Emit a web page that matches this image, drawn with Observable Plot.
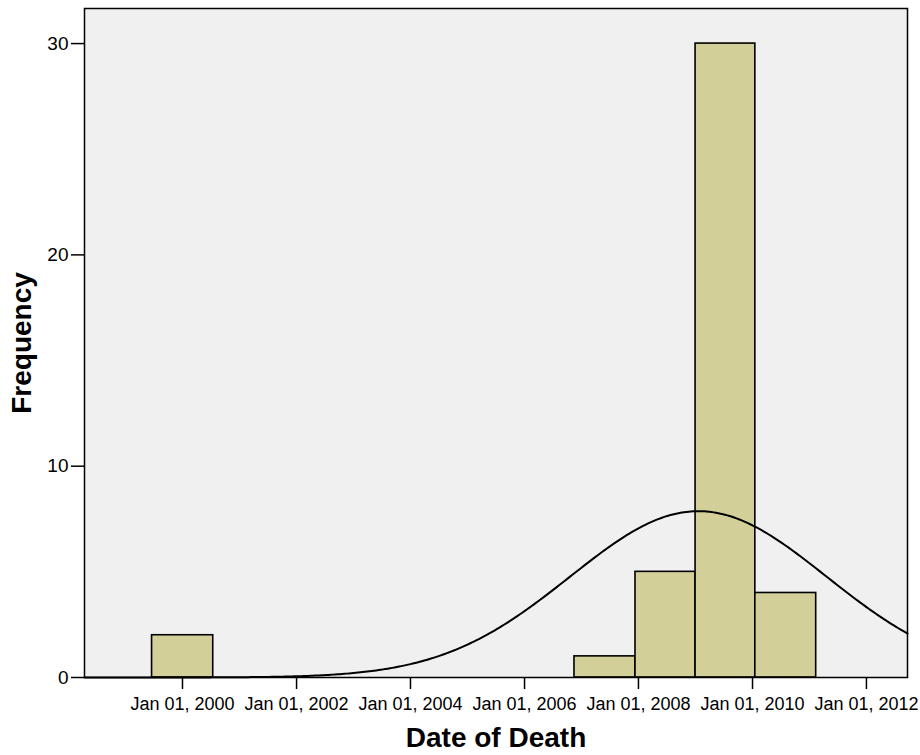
<!DOCTYPE html>
<html>
<head>
<meta charset="utf-8">
<script src="https://cdn.jsdelivr.net/npm/d3@7"></script>
<script src="https://cdn.jsdelivr.net/npm/@observablehq/plot@0.6"></script>
<style>
  html, body { margin: 0; padding: 0; background: #fff; }
  #chart svg { display: block; }
</style>
</head>
<body>
<div id="chart"></div>
<script>
// Histogram bins (Date of Death)
const binStart = ["1999-06-20", "2006-11-17", "2007-12-13", "2009-01-01", "2010-01-19"];
const binEnd   = ["2000-07-16", "2007-12-13", "2009-01-01", "2010-01-19", "2011-02-13"];
const counts   = [2, 1, 5, 30, 4];

// Fitted normal curve parameters
const normalMean = 2009.05;   // decimal year
const normalSD = 2.25;        // years
const binWidthYears = 1.057;
const totalN = 42;

const xTickYears = [2000, 2002, 2004, 2006, 2008, 2010, 2012];
const yTicks = [0, 10, 20, 30];

const yearToDate = y => new Date(Date.UTC(1970, 0, 1) + (y - 1970) * 365.2425 * 864e5);
const xDomain = [yearToDate(1998.28), yearToDate(2012.72)];

const bars = binStart.map((s, i) => ({x1: new Date(s), x2: new Date(binEnd[i]), count: counts[i]}));

const curve = d3.range(1998.28, 2012.73, 0.04).map(y => ({
  date: yearToDate(y),
  value: totalN * binWidthYears * Math.exp(-0.5 * ((y - normalMean) / normalSD) ** 2) / (normalSD * Math.sqrt(2 * Math.PI))
}));

const xTicks = xTickYears.map(y => new Date(Date.UTC(y, 0, 1)));
const fmt = d3.utcFormat("%b %d, %Y");

const chart = Plot.plot({
  width: 920,
  height: 755,
  marginTop: 8,
  marginBottom: 78,
  marginLeft: 84,
  marginRight: 13,
  style: {fontFamily: "'Liberation Sans', Arial, sans-serif", background: "#fff", color: "#000"},
  x: {type: "utc", domain: xDomain},
  y: {domain: [0, 31.66]},
  marks: [
    Plot.frame({fill: "#f0f0f0"}),
    Plot.rectY(bars, {x1: "x1", x2: "x2", y1: 0, y2: "count", fill: "#d3cf98", stroke: "#000", strokeWidth: 1.6}),
    Plot.line(curve, {x: "date", y: "value", stroke: "#000", strokeWidth: 2, curve: "linear"}),
    Plot.frame({stroke: "#000", strokeWidth: 1.5}),
    Plot.axisY({ticks: yTicks, tickSize: 13, tickPadding: 3, fontSize: 19, label: null, strokeWidth: 1.5}),
    Plot.axisX({ticks: xTicks, tickFormat: fmt, tickSize: 12, tickPadding: 8, fontSize: 18, label: null, strokeWidth: 1.5}),
    Plot.text(["Frequency"], {frameAnchor: "left", textAnchor: "middle", dx: -62, rotate: -90, fontSize: 28, fontWeight: "bold"}),
    Plot.text(["Date of Death"], {frameAnchor: "bottom", dy: 69, fontSize: 28, fontWeight: "bold"})
  ]
});
document.getElementById("chart").appendChild(chart);
</script>
</body>
</html>
